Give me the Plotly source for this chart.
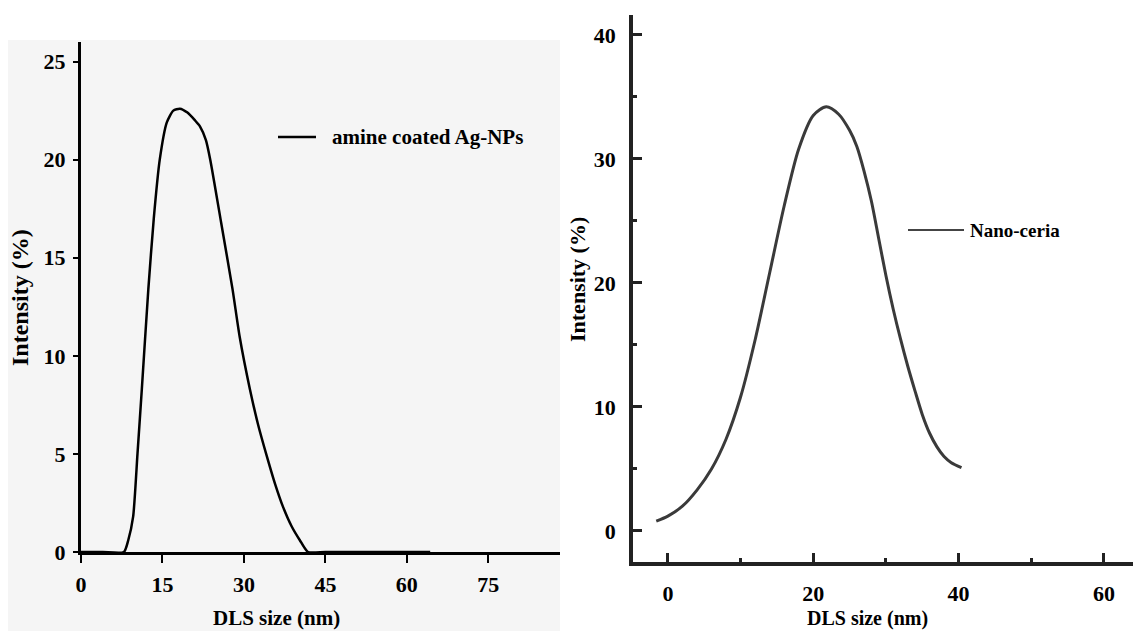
import plotly.graph_objects as go

W, H = 1133, 631

# ---- data: amine coated Ag-NPs (left panel)
ag_size = [0, 4, 7.9, 8.7, 9.6, 10.4, 11.2, 12.4, 13.4, 14.5, 15.8, 17.0, 18.2, 19.6, 21.0,
           21.9, 23.0, 23.8, 25.8, 27.9, 29.2, 31.1, 32.6, 34.2, 35.7, 37.2, 38.8, 40.3,
           41.8, 45, 55, 64.3]
ag_intensity = [0, 0, 0, 0.6, 1.8, 5.0, 8.3, 13.4, 17.0, 20.0, 21.9, 22.5, 22.6, 22.4, 22.0,
                21.7, 21.0, 20.0, 16.8, 13.4, 11.0, 8.3, 6.5, 4.9, 3.5, 2.3, 1.3, 0.6,
                0.0, 0, 0, 0]

# ---- data: Nano-ceria (right panel)
ce_size = [-1.6, 0, 2, 4, 6, 8, 10, 12, 14, 16, 18, 20, 21.8, 23.5, 25, 26, 27, 28, 29, 30,
           31, 32, 33, 34, 35, 36, 37, 38, 39, 40.4]
ce_intensity = [0.8, 1.2, 2.0, 3.3, 5.0, 7.4, 10.8, 15.4, 20.8, 26.2, 30.8, 33.5, 34.2, 33.6,
                32.3, 31.0, 29.0, 26.6, 23.6, 20.6, 17.9, 15.5, 13.3, 11.3, 9.4, 7.9, 6.8,
                6.0, 5.5, 5.1]

left_xticks = [0, 15, 30, 45, 60, 75]
left_yticks = [0, 5, 10, 15, 20, 25]
right_xticks = [0, 20, 40, 60]
right_xminor = [10, 30, 50]
right_yticks = [0, 10, 20, 30, 40]
right_yminor = [5, 15, 25, 35]

FONT = "Liberation Serif"
tickfont = dict(family=FONT, size=22, color="black", weight="bold")


def px_x(p):
    return p / W


def px_y(p):
    return 1 - p / H


fig = go.Figure()
fig.add_trace(go.Scatter(
    x=ag_size, y=ag_intensity, mode="lines", name="amine coated Ag-NPs",
    line=dict(color="black", width=2.5, shape="spline", smoothing=0.6),
    xaxis="x", yaxis="y", showlegend=False))
fig.add_trace(go.Scatter(
    x=ce_size, y=ce_intensity, mode="lines", name="Nano-ceria",
    line=dict(color="#3a3a3a", width=3, shape="spline", smoothing=0.8),
    xaxis="x2", yaxis="y2", showlegend=False))

common = dict(showgrid=False, zeroline=False, automargin=False, tickfont=tickfont,
              tickmode="array", showline=True)

fig.update_layout(
    width=W, height=H, autosize=False,
    margin=dict(l=0, r=0, t=0, b=0, pad=0, autoexpand=False),
    paper_bgcolor="white",
    plot_bgcolor="rgba(0,0,0,0)",
    xaxis=dict(domain=[px_x(81), px_x(560)], range=[0, 88.2], anchor="y",
               tickvals=left_xticks, ticks="outside", ticklen=8, tickwidth=1.5,
               tickcolor="black", linecolor="black", linewidth=3,
               ticklabelstandoff=3, **common),
    yaxis=dict(domain=[px_y(552), px_y(42)], range=[0, 26.0], anchor="x",
               tickvals=left_yticks, ticks="outside", ticklen=5, tickwidth=1.5,
               tickcolor="black", linecolor="black", linewidth=3,
               ticklabelstandoff=3, **common),
    xaxis2=dict(domain=[px_x(633), 1.0], range=[-4.8, 64.0], anchor="y2",
                tickvals=right_xticks, ticks="inside", ticklen=9, tickwidth=3,
                tickcolor="#222", linecolor="#222", linewidth=4, ticklabelstandoff=9,
                minor=dict(tickmode="array", tickvals=right_xminor, ticks="inside",
                           ticklen=4, tickwidth=3, tickcolor="#222", showgrid=False),
                **common),
    yaxis2=dict(domain=[px_y(562), px_y(15)], range=[-2.5, 41.6], anchor="x2",
                tickvals=right_yticks, ticks="inside", ticklen=9, tickwidth=3,
                tickcolor="#222", linecolor="#222", linewidth=3.5, ticklabelstandoff=9,
                minor=dict(tickmode="array", tickvals=right_yminor, ticks="inside",
                           ticklen=4, tickwidth=3, tickcolor="#222", showgrid=False),
                **common),
)

shapes = [
    # light grey background of the left panel
    dict(type="rect", xref="paper", yref="paper", x0=px_x(8), x1=px_x(560),
         y0=0, y1=px_y(40), fillcolor="#f5f5f5", line=dict(width=0), layer="below"),
    # legend keys
    dict(type="line", xref="paper", yref="paper", x0=px_x(278), x1=px_x(316),
         y0=px_y(137), y1=px_y(137), line=dict(color="black", width=2.5)),
    dict(type="line", xref="paper", yref="paper", x0=px_x(908), x1=px_x(964),
         y0=px_y(230), y1=px_y(230), line=dict(color="#444", width=2)),
]
fig.update_layout(shapes=shapes)

annotations = [
    dict(text="amine coated Ag-NPs", x=px_x(330), y=px_y(137), xanchor="left",
         yanchor="middle", font=dict(family=FONT, size=21, color="black", weight="bold")),
    dict(text="Nano-ceria", x=px_x(968), y=px_y(230), xanchor="left",
         yanchor="middle", font=dict(family=FONT, size=19, color="black", weight="bold")),
    dict(text="DLS size (nm)", x=px_x(276), y=px_y(618), xanchor="center",
         yanchor="middle", font=dict(family=FONT, size=21, color="black", weight="bold")),
    dict(text="DLS size (nm)", x=px_x(867), y=px_y(618), xanchor="center",
         yanchor="middle", font=dict(family=FONT, size=20, color="black", weight="bold")),
    dict(text="Intensity (%)", x=px_x(20), y=px_y(298), xanchor="center",
         yanchor="middle", textangle=-90,
         font=dict(family=FONT, size=24, color="black", weight="bold")),
    dict(text="Intensity (%)", x=px_x(577), y=px_y(279), xanchor="center",
         yanchor="middle", textangle=-90,
         font=dict(family=FONT, size=22, color="black", weight="bold")),
]
for a in annotations:
    a.update(xref="paper", yref="paper", showarrow=False)
fig.update_layout(annotations=annotations)

# drop the browser's default 8px body margin so the 1133x631 figure fills the window
post = ("document.body.style.margin='0';document.body.style.overflow='hidden';")
fig.write_html("out.html", config={"displayModeBar": False}, post_script=post)
